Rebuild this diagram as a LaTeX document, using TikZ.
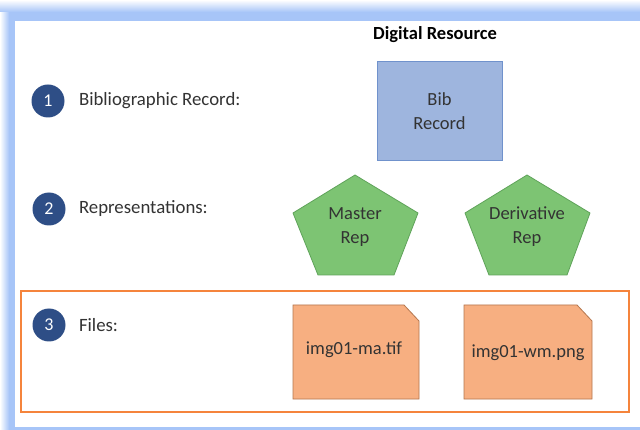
\documentclass[tikz,border=0pt]{standalone}
\usepackage{fontspec}
\setmainfont{Carlito}
\definecolor{framebl}{HTML}{A7C5F8}
\definecolor{bibfill}{HTML}{9EB5DE}
\definecolor{bibdraw}{HTML}{7092CC}
\definecolor{repfill}{HTML}{7DC473}
\definecolor{repdraw}{HTML}{5FA35A}
\definecolor{filefill}{HTML}{F7AF81}
\definecolor{filedraw}{HTML}{B5774F}
\definecolor{orangefr}{HTML}{F5843C}
\definecolor{numbl}{HTML}{2E4E86}
\definecolor{txt}{HTML}{333333}
\tikzset{
  numcirc/.style={circle,fill=numbl,minimum size=33pt,inner sep=0pt,text=white,font=\fontsize{18}{21}\selectfont},
  rowlabel/.style={anchor=west,text=txt,font=\fontsize{18.8}{22}\selectfont},
  shapetext/.style={align=center,text=txt,font=\fontsize{18.5}{24}\selectfont},
  bibbox/.style={draw=bibdraw,fill=bibfill,line width=1pt,minimum width=125pt,minimum height=99pt,inner sep=0pt},
  repshape/.style={draw=repdraw,fill=repfill,line width=0.8pt},
  fileshape/.style={draw=filedraw,fill=filefill,line width=0.8pt},
}
\begin{document}
\begin{tikzpicture}[x=1pt,y=-1pt]
\useasboundingbox (0,0) rectangle (640,430);
% frame
\fill[framebl] (0,0) rectangle (640,430);
\shade[left color=white,right color=framebl] (0,0) rectangle (9,430);
\shade[top color=white,bottom color=framebl] (0,0) rectangle (640,12);
\fill[white] (15,21) rectangle (640,427);
% title
\node[font=\bfseries\fontsize{18.5}{22}\selectfont,text=black] (title) at (435,35) {Digital Resource};
% row markers
\node[numcirc] (n1) at (48,101) {1};
\node[numcirc] (n2) at (49,209) {2};
\node[numcirc] (n3) at (49,325) {3};
\node[rowlabel] (l1) at (75.5,101) {Bibliographic Record:};
\node[rowlabel] (l2) at (75.5,209) {Representations:};
\node[rowlabel] (l3) at (75.5,325) {Files:};
% bib record
\node[bibbox] (bib) at (439.5,111.5) {};
\node[shapetext] (bibt) at (bib.center) {Bib\\Record};
% pentagons
\draw[repshape] (355,175) -- (418,213) -- (394,275) -- (318,275) -- (293,213) -- cycle;
\node[shapetext] (mrep) at (355,227) {Master\\Rep};
\draw[repshape] (527,175) -- (590,213) -- (567,275) -- (489,275) -- (465,213) -- cycle;
\node[shapetext] (drep) at (527,227) {Derivative\\Rep};
% files frame
\draw[orangefr,line width=2.5pt] (21,291) rectangle (629,412);
% files
\draw[fileshape] (293,305) -- (404,305) -- (419,321) -- (419,399) -- (293,399) -- cycle;
\node[shapetext] (f1) at (354,350) {img01-ma.tif};
\draw[fileshape] (464,305) -- (577,305) -- (592,321) -- (592,399) -- (464,399) -- cycle;
\node[shapetext] (f2) at (528,353) {img01-wm.png};
\end{tikzpicture}
\end{document}
